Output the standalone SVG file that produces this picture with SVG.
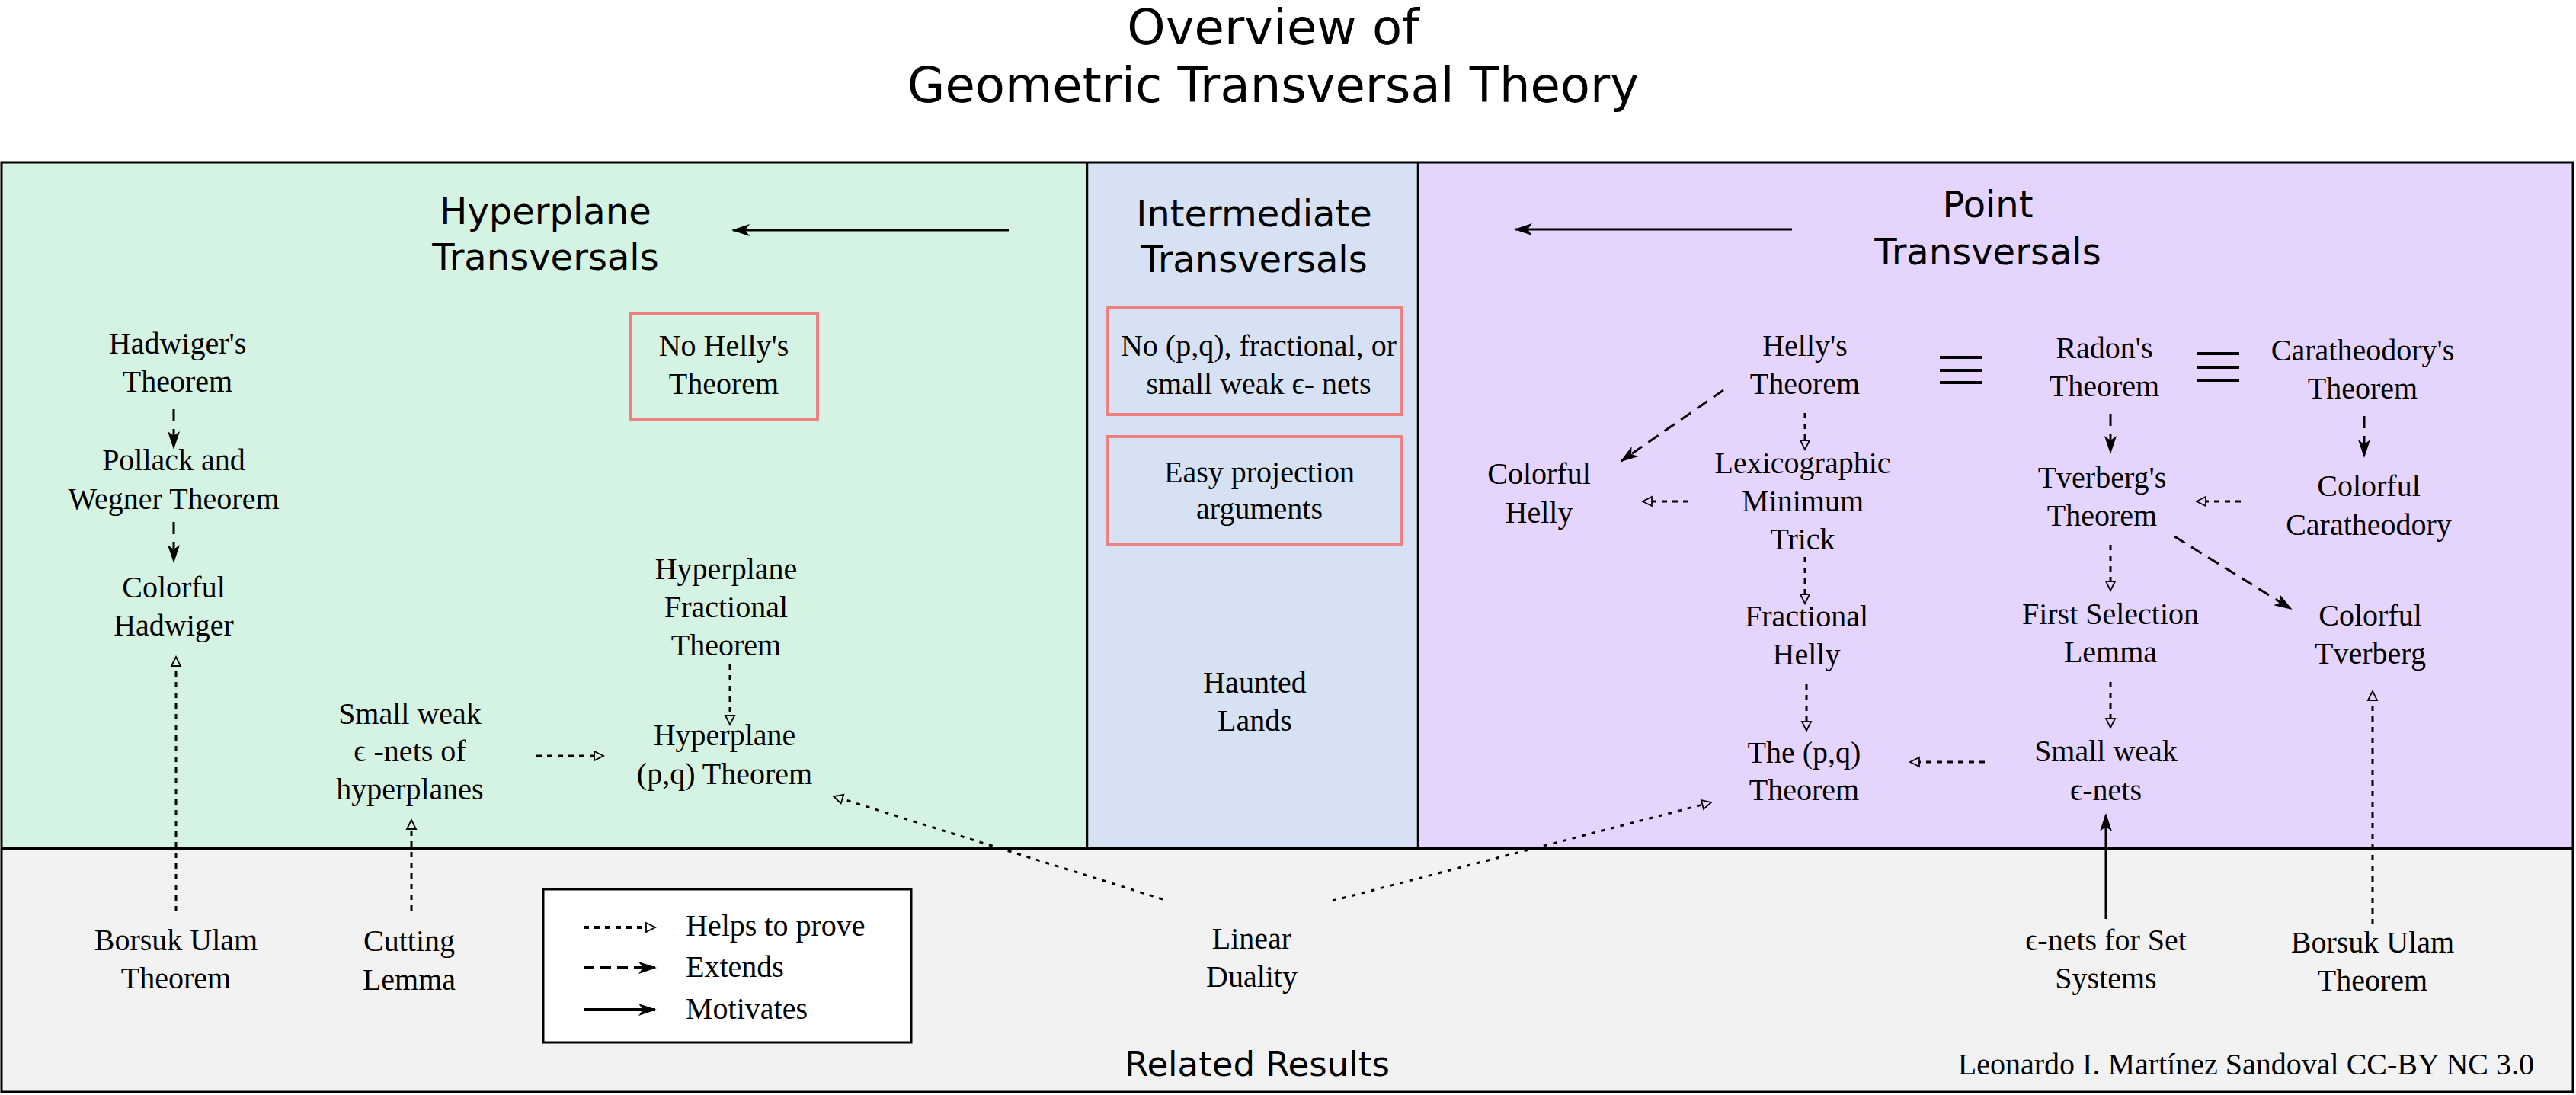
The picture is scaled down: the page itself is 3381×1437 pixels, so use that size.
<svg xmlns="http://www.w3.org/2000/svg" width="3381" height="1437" viewBox="0 0 3381 1437">
<style>
.t{font-family:"Liberation Serif","DejaVu Serif",serif;font-size:40px;text-anchor:middle;fill:#000}
.h{font-family:"DejaVu Sans","Liberation Sans",sans-serif;font-size:48px;text-anchor:middle;fill:#000}
.ttl{font-family:"DejaVu Sans","Liberation Sans",sans-serif;font-size:64px;text-anchor:middle;fill:#000}
.red{fill:none;stroke:#f08080;stroke-width:4}
.helps{fill:none;stroke:#000;stroke-width:3;stroke-dasharray:7 7;marker-end:url(#mh)}
.ext{fill:none;stroke:#000;stroke-width:3;stroke-dasharray:16 10;marker-end:url(#me)}
.mot{fill:none;stroke:#000;stroke-width:3;marker-end:url(#me)}
.diag{fill:none;stroke:#000;stroke-width:3;stroke-dasharray:5 8;marker-end:url(#mh)}
.eq{stroke:#000;stroke-width:4}
</style>
<defs>
<marker id="mh" markerUnits="userSpaceOnUse" markerWidth="14" markerHeight="14" viewBox="-1 -1 14 14" refX="0" refY="6" orient="auto" overflow="visible">
<path d="M0,0 L12,6 L0,12 z" fill="none" stroke="#000" stroke-width="1.8"/>
</marker>
<marker id="me" markerUnits="userSpaceOnUse" markerWidth="24" markerHeight="16" viewBox="0 0 24 16" refX="22" refY="8" orient="auto" overflow="visible">
<path d="M0,0 L24,8 L0,16 L6,8 z" fill="#000"/>
</marker>
</defs>
<rect width="3381" height="1437" fill="#fff"/>
<g id="title">
<text class="ttl" x="1671" y="58">Overview of</text>
<text class="ttl" x="1671" y="134">Geometric Transversal Theory</text>
</g>
<g id="regions">
<rect x="2" y="213" width="1425" height="900" fill="#d5f3e2"/>
<rect x="1427" y="213" width="434" height="900" fill="#d6e2f3"/>
<rect x="1861" y="213" width="1516" height="900" fill="#e5d5fe"/>
<rect x="2" y="1113" width="3375" height="320" fill="#f2f2f2"/>
<rect x="2" y="213" width="3375" height="1220" fill="none" stroke="#000" stroke-width="3"/>
<line x1="2" y1="1113" x2="3377" y2="1113" stroke="#000" stroke-width="4"/>
<line x1="1427" y1="213" x2="1427" y2="1113" stroke="#000" stroke-width="2.5"/>
<line x1="1861" y1="213" x2="1861" y2="1113" stroke="#000" stroke-width="2.5"/>
</g>
<g id="section-hyperplane">
<text class="h" x="716" y="294">Hyperplane</text>
<text class="h" x="716" y="354">Transversals</text>
</g>
<g id="section-intermediate">
<text class="h" x="1646" y="297">Intermediate</text>
<text class="h" x="1646" y="357">Transversals</text>
</g>
<g id="section-point">
<text class="h" x="2609" y="285">Point</text>
<text class="h" x="2609" y="347">Transversals</text>
</g>
<g id="section-related">
<text class="h" x="1650" y="1412" style="font-size:45px">Related Results</text>
</g>
<g id="n-hadwiger"><text class="t" x="233" y="464">Hadwiger's</text><text class="t" x="233" y="514">Theorem</text></g>
<g id="n-pollack"><text class="t" x="228" y="617">Pollack and</text><text class="t" x="228" y="668">Wegner Theorem</text></g>
<g id="n-colorful-hadwiger"><text class="t" x="228" y="784">Colorful</text><text class="t" x="228" y="834">Hadwiger</text></g>
<g id="n-no-helly"><rect class="red" x="828" y="412" width="245" height="138"/><text class="t" x="950" y="467">No Helly's</text><text class="t" x="950" y="517">Theorem</text></g>
<g id="n-hyp-fractional"><text class="t" x="953" y="760">Hyperplane</text><text class="t" x="953" y="810">Fractional</text><text class="t" x="953" y="860">Theorem</text></g>
<g id="n-hyp-pq"><text class="t" x="951" y="978">Hyperplane</text><text class="t" x="951" y="1029">(p,q) Theorem</text></g>
<g id="n-small-weak-hyp"><text class="t" x="538" y="950">Small weak</text><text class="t" x="538" y="999">ϵ -nets of</text><text class="t" x="538" y="1049">hyperplanes</text></g>
<g id="n-no-pq"><rect class="red" x="1453" y="404" width="387" height="140"/><text class="t" x="1652" y="467">No (p,q), fractional, or</text><text class="t" x="1652" y="517">small weak ϵ- nets</text></g>
<g id="n-easy-proj"><rect class="red" x="1453" y="573" width="387" height="141"/><text class="t" x="1653" y="633">Easy projection</text><text class="t" x="1653" y="681">arguments</text></g>
<g id="n-haunted"><text class="t" x="1647" y="909">Haunted</text><text class="t" x="1647" y="959">Lands</text></g>
<g id="n-helly"><text class="t" x="2369" y="467">Helly's</text><text class="t" x="2369" y="517">Theorem</text></g>
<g id="n-radon"><text class="t" x="2762" y="470">Radon's</text><text class="t" x="2762" y="520">Theorem</text></g>
<g id="n-caratheodory"><text class="t" x="3101" y="473">Caratheodory's</text><text class="t" x="3101" y="523">Theorem</text></g>
<g id="n-colorful-helly"><text class="t" x="2020" y="635">Colorful</text><text class="t" x="2020" y="686">Helly</text></g>
<g id="n-lexico"><text class="t" x="2366" y="621">Lexicographic</text><text class="t" x="2366" y="671">Minimum</text><text class="t" x="2366" y="721">Trick</text></g>
<g id="n-fractional-helly"><text class="t" x="2371" y="822">Fractional</text><text class="t" x="2371" y="872">Helly</text></g>
<g id="n-pq"><text class="t" x="2368" y="1001">The (p,q)</text><text class="t" x="2368" y="1050">Theorem</text></g>
<g id="n-tverberg"><text class="t" x="2759" y="640">Tverberg's</text><text class="t" x="2759" y="690">Theorem</text></g>
<g id="n-colorful-cara"><text class="t" x="3109" y="651">Colorful</text><text class="t" x="3109" y="702">Caratheodory</text></g>
<g id="n-colorful-tverberg"><text class="t" x="3111" y="821">Colorful</text><text class="t" x="3111" y="871">Tverberg</text></g>
<g id="n-first-selection"><text class="t" x="2770" y="819">First Selection</text><text class="t" x="2770" y="869">Lemma</text></g>
<g id="n-small-weak"><text class="t" x="2764" y="999">Small weak</text><text class="t" x="2764" y="1050">ϵ-nets</text></g>
<g id="n-borsuk-left"><text class="t" x="231" y="1247">Borsuk Ulam</text><text class="t" x="231" y="1297">Theorem</text></g>
<g id="n-cutting"><text class="t" x="537" y="1248">Cutting</text><text class="t" x="537" y="1299">Lemma</text></g>
<g id="n-linear-duality"><text class="t" x="1643" y="1245">Linear</text><text class="t" x="1643" y="1295">Duality</text></g>
<g id="n-eps-set"><text class="t" x="2764" y="1247">ϵ-nets for Set</text><text class="t" x="2764" y="1297">Systems</text></g>
<g id="n-borsuk-right"><text class="t" x="3114" y="1250">Borsuk Ulam</text><text class="t" x="3114" y="1300">Theorem</text></g>
<g id="credit"><text class="t" x="3326" y="1410" style="text-anchor:end">Leonardo I. Martínez Sandoval CC-BY NC 3.0</text></g>
<g id="legend">
<rect x="713" y="1167" width="483" height="201" fill="#fff" stroke="#000" stroke-width="3"/>
<line x1="766" y1="1217" x2="848" y2="1217" class="helps" style="stroke-width:4"/>
<line x1="766" y1="1270" x2="860" y2="1270" class="ext" style="stroke-width:4;stroke-dasharray:14 8"/>
<line x1="766" y1="1325" x2="860" y2="1325" class="mot" style="stroke-width:4"/>
<text class="t" x="900" y="1228" style="text-anchor:start">Helps to prove</text>
<text class="t" x="900" y="1282" style="text-anchor:start">Extends</text>
<text class="t" x="900" y="1337" style="text-anchor:start">Motivates</text>
</g>
<g id="connectors">
<line class="mot" x1="1324" y1="302" x2="962" y2="302"/>
<line class="mot" x1="2352" y1="301" x2="1989" y2="301"/>
<line class="helps" x1="231" y1="1196" x2="231" y2="874"/>
<line class="helps" x1="540" y1="1195" x2="540" y2="1088"/>
<line class="helps" x1="704" y1="992" x2="780" y2="992"/>
<line class="helps" x1="958" y1="872" x2="958" y2="939"/>
<line class="diag" x1="1526" y1="1180" x2="1105.5" y2="1048.6"/>
<line class="diag" x1="1749" y1="1182" x2="2234.4" y2="1056"/>
<line class="helps" x1="2369" y1="542" x2="2369" y2="578"/>
<line class="helps" x1="2216" y1="658" x2="2168" y2="658"/>
<line class="helps" x1="2369" y1="731" x2="2369" y2="780"/>
<line class="helps" x1="2371" y1="898" x2="2371" y2="947"/>
<line class="helps" x1="2605" y1="1000" x2="2519" y2="1000"/>
<line class="helps" x1="2770" y1="715" x2="2770" y2="763"/>
<line class="helps" x1="2770" y1="895" x2="2770" y2="943"/>
<line class="helps" x1="2941" y1="658" x2="2895" y2="658"/>
<line class="helps" x1="3114" y1="1213" x2="3114" y2="919"/>
<line class="ext" x1="228" y1="537" x2="228" y2="588"/>
<line class="ext" x1="228" y1="685" x2="228" y2="737"/>
<line class="ext" x1="2262" y1="512" x2="2128" y2="605"/>
<line class="ext" x1="2770" y1="543" x2="2770" y2="594"/>
<line class="ext" x1="3103" y1="546" x2="3103" y2="599"/>
<line class="ext" x1="2854" y1="704" x2="3007" y2="799"/>
<line class="mot" x1="2764" y1="1206" x2="2764" y2="1069"/>
<line class="eq" x1="2546" y1="469" x2="2602" y2="469"/>
<line class="eq" x1="2546" y1="486" x2="2602" y2="486"/>
<line class="eq" x1="2546" y1="502" x2="2602" y2="502"/>
<line class="eq" x1="2883" y1="464" x2="2939" y2="464"/>
<line class="eq" x1="2883" y1="482" x2="2939" y2="482"/>
<line class="eq" x1="2883" y1="499" x2="2939" y2="499"/>
</g>
</svg>
